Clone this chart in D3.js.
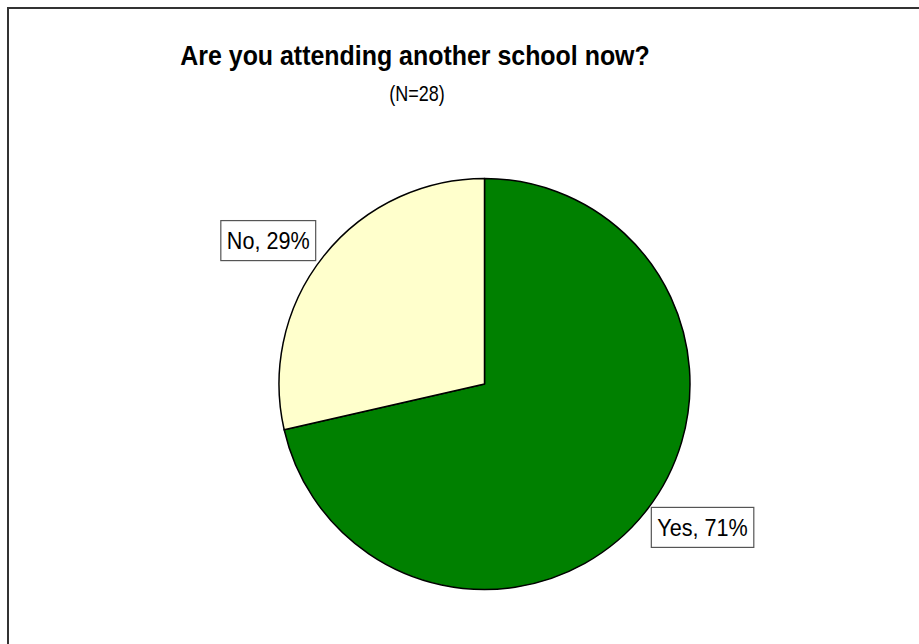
<!DOCTYPE html>
<html>
<head>
<meta charset="utf-8">
<script src="https://cdn.jsdelivr.net/npm/d3@7"></script>
<style>
  html, body { margin: 0; padding: 0; background: #fff; }
  svg { display: block; }
  text { font-family: Arial, "Liberation Sans", sans-serif; }
</style>
</head>
<body>
<svg id="chart" width="919" height="644"></svg>
<script>
// Survey answers (counts out of N=28)
const categories = ["Yes", "No"];
const counts = [20, 8];
const percentLabels = ["71%", "29%"];
const sliceColors = ["#008000", "#FFFFCC"];
const titleText = "Are you attending another school now?";
const subtitleText = "(N=28)";

const svg = d3.select("#chart");

// Outer chart frame (runs off the right and bottom edges)
svg.append("rect")
  .attr("x", 8).attr("y", 8)
  .attr("width", 1000).attr("height", 1000)
  .attr("fill", "#fff")
  .attr("stroke", "#333").attr("stroke-width", 2);

// Condensed text helper: tall glyphs, narrower advance
function condensedText(parent, x, y, str, size, sx, anchor, weight) {
  return parent.append("text")
    .attr("transform", `translate(${x},${y}) scale(${sx},1)`)
    .attr("text-anchor", anchor)
    .attr("font-size", size)
    .attr("font-weight", weight || "normal")
    .attr("fill", "#000")
    .text(str);
}

// Titles
condensedText(svg, 415, 65, titleText, 28.5, 0.875, "middle", "bold");
condensedText(svg, 417, 101, subtitleText, 22, 0.82, "middle");

// Pie
const cx = 484.5, cy = 384, r = 205.5;
const data = categories.map((c, i) => ({ name: c, value: counts[i], pct: percentLabels[i], color: sliceColors[i] }));

const pie = d3.pie().sort(null).value(d => d.value);
const arcs = pie(data);
const arc = d3.arc().innerRadius(0).outerRadius(r);

const g = svg.append("g").attr("transform", `translate(${cx},${cy})`);

g.selectAll("path.slice")
  .data(arcs)
  .join("path")
  .attr("class", "slice")
  .attr("d", arc)
  .attr("fill", d => d.data.color)
  .attr("stroke", "#000")
  .attr("stroke-width", 1.5)
  .attr("stroke-linejoin", "round");

// Data labels in boxes, placed outside each slice
const labelArc = d3.arc().innerRadius(230).outerRadius(230);
const fontSize = 24, labelSx = 0.9, padX = 6, boxH = 40;

arcs.forEach(a => {
  const [px, py] = labelArc.centroid(a);
  const mid = (a.startAngle + a.endAngle) / 2;
  const rightSide = Math.sin(mid) > 0;

  const lg = g.append("g");
  const rect = lg.append("rect");
  const t = lg.append("text")
    .attr("font-size", fontSize)
    .attr("fill", "#000")
    .text(`${a.data.name}, ${a.data.pct}`);
  const tw = t.node().getComputedTextLength() * labelSx;
  const bw = tw + padX * 2;
  const bx = rightSide ? px - 13 : px + 11 - bw;
  const by = py - boxH / 2;

  rect.attr("x", bx).attr("y", by)
    .attr("width", bw).attr("height", boxH)
    .attr("fill", "#fff")
    .attr("stroke", "#555").attr("stroke-width", 1.2);
  t.attr("transform", `translate(${bx + padX},${py + fontSize * 0.36}) scale(${labelSx},1)`);
});
</script>
</body>
</html>
